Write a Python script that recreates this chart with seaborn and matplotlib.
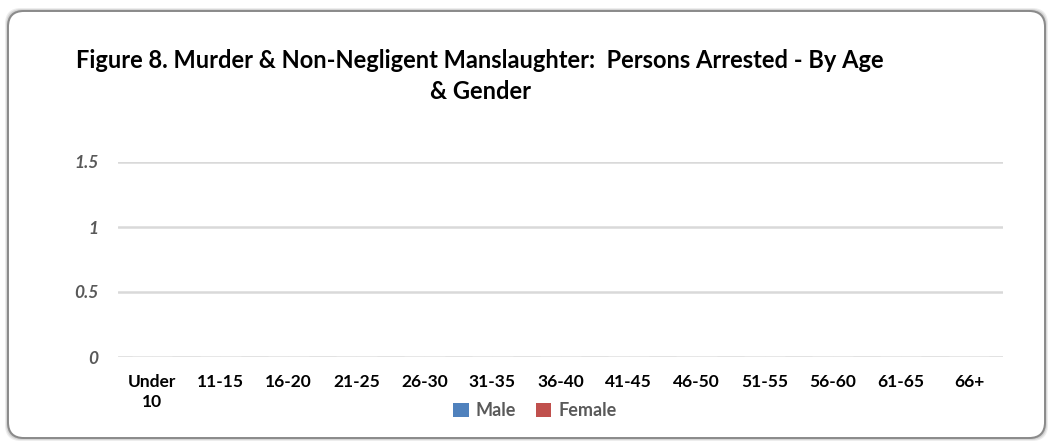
import matplotlib
matplotlib.use("Agg")
import matplotlib.pyplot as plt
from matplotlib.patches import FancyBboxPatch, Patch
from matplotlib.transforms import IdentityTransform
import seaborn as sns
import pandas as pd

categories = ["Under\n10", "11-15", "16-20", "21-25", "26-30", "31-35", "36-40",
              "41-45", "46-50", "51-55", "56-60", "61-65", "66+"]
male = [0, 0, 0, 0, 0, 0, 0, 0, 0, 0, 0, 0, 0]
female = [0, 0, 0, 0, 0, 0, 0, 0, 0, 0, 0, 0, 0]
series = ["Male", "Female"]
colors = ["#4f81bd", "#c0504d"]
yticks = [0, 0.5, 1, 1.5]
ytick_labels = ["0", "0.5", "1", "1.5"]
title = "Figure 8. Murder & Non-Negligent Manslaughter:  Persons Arrested - By Age\n& Gender"

df = pd.DataFrame({
    "Age": categories * 2,
    "Gender": ["Male"] * len(categories) + ["Female"] * len(categories),
    "Count": male + female,
})

sns.set_theme(style="white")
plt.rcParams['font.family'] = ['Lato', 'DejaVu Sans']

fig = plt.figure(figsize=(10.5, 4.43), dpi=100)
fig.patch.set_facecolor("white")

# rounded frame with soft shadow (pixel coordinates, origin bottom-left)
for off, alpha in [(6, 0.12), (4, 0.18), (2, 0.3)]:
    sh = FancyBboxPatch((8 - off / 2, 5 - off / 2), 1037 + off, 427 + off,
                        boxstyle="round,pad=0,rounding_size=16",
                        transform=IdentityTransform(), facecolor="#707070",
                        edgecolor="none", alpha=alpha, zorder=0)
    fig.patches.append(sh)
frame = FancyBboxPatch((8, 5), 1037, 427,
                       boxstyle="round,pad=0,rounding_size=16",
                       transform=IdentityTransform(), facecolor="white",
                       edgecolor="#8a8a8a", linewidth=1.4, zorder=1)
fig.patches.append(frame)

ax = fig.add_axes([118 / 1050, 1 - 357 / 443, (1003 - 118) / 1050, (357 - 162) / 443])
ax.set_facecolor("none")
ax.set_zorder(2)

sns.barplot(data=df, x="Age", y="Count", hue="Gender", hue_order=series,
            palette=colors, ax=ax, legend=False, width=0.6)

ax.set_ylim(0, 1.5)
ax.set_yticks(yticks)
ax.set_yticklabels(ytick_labels, fontstyle="italic", fontweight="bold",
                   color="#595959", fontsize=12.5)
for t in ax.get_xticklabels():
    t.set_fontweight("bold")
    t.set_fontsize(12.5)
    t.set_color("black")
    t.set_linespacing(1.35)
ax.tick_params(axis="y", length=0, pad=14)
ax.tick_params(axis="x", length=0, pad=12)
ax.set_xlabel("")
ax.set_ylabel("")
for s in ax.spines.values():
    s.set_visible(False)
ax.grid(axis="y", color="#d9d9d9", linewidth=1.8)
ax.set_axisbelow(True)

fig.text(480 / 1050, 1 - 76 / 443, title, ha="center", va="center",
         fontsize=17, fontweight="bold", color="black", linespacing=1.4)

handles = [Patch(facecolor=c, edgecolor="none", label=s) for s, c in zip(series, colors)]
fig.legend(handles=handles, loc="center", bbox_to_anchor=(535 / 1050, 1 - 411 / 443),
           ncol=2, frameon=False, handlelength=0.85, handleheight=0.85,
           handletextpad=0.4, columnspacing=1.1,
           prop={"weight": "bold", "size": 13}, labelcolor="#595959")

fig.savefig("out.png", dpi=100, facecolor="white")
